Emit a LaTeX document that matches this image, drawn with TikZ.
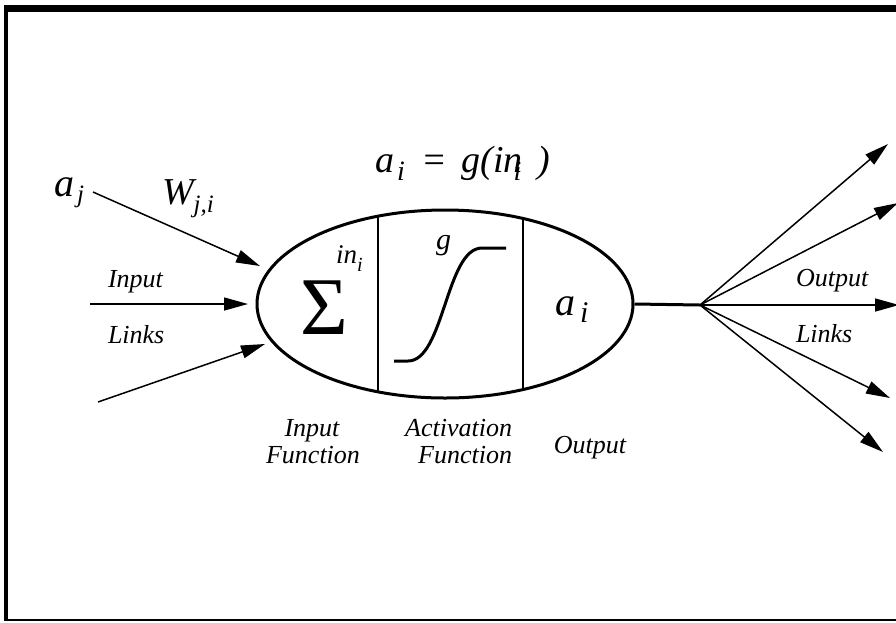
\documentclass[tikz,border=0pt]{standalone}
\usepackage{fontspec}
\setmainfont{Liberation Serif}
\usetikzlibrary{arrows.meta,shapes.geometric}
\newcommand\myfs[1]{\fontsize{#1}{#1}\selectfont}
\tikzset{
  txt/.style={inner sep=0pt, outer sep=0pt, anchor=base west},
  lbl/.style={txt, font=\myfs{26}\itshape},
  blbl/.style={txt, font=\myfs{26}\itshape, text height=0.66em, text depth=0.2em},
  link/.style={line width=1.5pt, -{Triangle[length=24pt,width=13pt]}},
  thick line/.style={line width=3pt},
}
\begin{document}
\begin{tikzpicture}[x=1pt,y=-1pt]
\useasboundingbox (0,0) rectangle (896,622);
% frame
\fill (4,5) rectangle (896,12);
\fill (4,5) rectangle (8,621);
\draw[line width=1.5pt] (4,620) -- (896,620);

% neuron body
\node[draw, thick line, ellipse, minimum width=376pt, minimum height=188pt, inner sep=0pt] (neuron) at (445,304) {};
\coordinate (d1t) at (378,216.2); \coordinate (d1b) at (378,391.8);
\coordinate (d2t) at (523,218.5); \coordinate (d2b) at (523,389.5);
\draw[line width=1.5pt] (d1t) -- (d1b);
\draw[line width=1.5pt] (d2t) -- (d2b);

% sigmoid
\coordinate (s0) at (394,361); \coordinate (s1) at (408,361);
\coordinate (s2) at (482,248); \coordinate (s3) at (506,248);
\draw[thick line] (s0) -- (s1) .. controls (444,361) and (446,248) .. (s2) -- (s3);

% texts inside
\node[txt, font=\myfs{82}] (sigma) at (300,334) {Σ};
\node[txt, font=\myfs{27}\itshape] (inlbl) at (336,263) {in\raisebox{-8pt}{\myfs{20}i}};
\node[txt, font=\myfs{30}\itshape] (glbl) at (436,249) {g};
\node[txt, font=\myfs{40}\itshape] (ailbl) at (555,315) {a\hspace{5pt}\raisebox{-7pt}{\myfs{30}i}};

% title
\node[txt, font=\myfs{38}\itshape] (title) at (375,172)
  {a\hspace{3pt}\raisebox{-8pt}{\myfs{28}i}\hspace{17pt}=\hspace{14pt}g(in\hspace{-9pt}\raisebox{-8pt}{\myfs{28}i}\hspace{16pt})};

% input side
\node[txt, font=\myfs{40}\itshape] (aj) at (54,196) {a\hspace{3pt}\raisebox{-6pt}{\myfs{25}j}};
\node[txt, font=\myfs{38}\itshape] (wji) at (162,204) {W\raisebox{-8pt}{\myfs{25}j,i}};
\node[lbl] (inlinks1) at (108,287) {Input};
\node[lbl] (inlinks2) at (108,343) {Links};

\coordinate (i1s) at (93,192);  \coordinate (i1e) at (260,266);
\coordinate (i2s) at (90,304);  \coordinate (i2e) at (248,304);
\coordinate (i3s) at (98,402);  \coordinate (i3e) at (265,344);
\draw[link] (i1s) -- (i1e);
\draw[link] (i2s) -- (i2e);
\draw[link] (i3s) -- (i3e);

% output side
\coordinate (hub) at (700,305);
\draw[thick line] (neuron.east) -- (hub);
\coordinate (o1) at (888,144);
\coordinate (o2) at (898,203);
\coordinate (o3) at (899,305);
\coordinate (o4) at (890,398);
\coordinate (o5) at (883,452);
\foreach \t in {o1,o2,o3,o4,o5} \draw[link] (hub) -- (\t);
\node[lbl] (outlinks1) at (796,286) {Output};
\node[lbl] (outlinks2) at (796,342) {Links};

% bottom labels
\node[blbl, anchor=base] (inf1) at (312,436) {Input};
\node[blbl, anchor=base] (inf2) at (313,463) {Function};
\node[blbl, anchor=base east, text depth=0pt] (act1) at (512,436) {Activation};
\node[blbl, anchor=base east] (act2) at (512,463) {Function};
\node[blbl, anchor=base] (outl) at (590,453) {Output};
\end{tikzpicture}
\end{document}
